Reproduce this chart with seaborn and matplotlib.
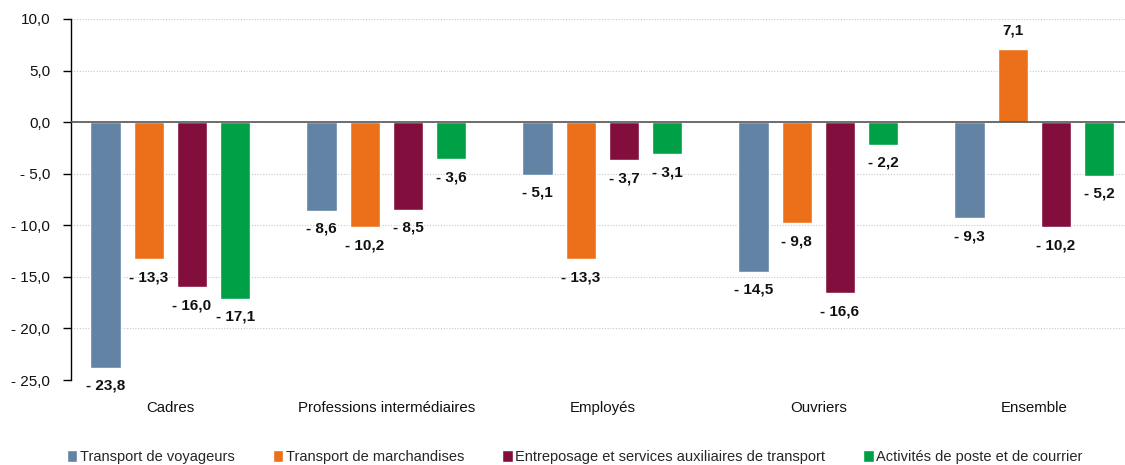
import matplotlib
matplotlib.use("Agg")
import matplotlib.pyplot as plt
import seaborn as sns
import pandas as pd
from matplotlib.ticker import FuncFormatter

categories = ["Cadres", "Professions intermédiaires", "Employés", "Ouvriers", "Ensemble"]
series_names = ["Transport de voyageurs", "Transport de marchandises",
                "Entreposage et services auxiliaires de transport", "Activités de poste et de courrier"]
voyageurs = [-23.8, -8.6, -5.1, -14.5, -9.3]
marchandises = [-13.3, -10.2, -13.3, -9.8, 7.1]
entreposage = [-16.0, -8.5, -3.7, -16.6, -10.2]
poste = [-17.1, -3.6, -3.1, -2.2, -5.2]
colors = ["#6283A3", "#EC7019", "#820E3E", "#00A046"]

rows = []
for name, vals in zip(series_names, [voyageurs, marchandises, entreposage, poste]):
    for c, v in zip(categories, vals):
        rows.append({"cat": c, "serie": name, "val": v})
df = pd.DataFrame(rows)

sns.set_theme(style="white")
plt.rcParams["font.family"] = ["Liberation Sans", "DejaVu Sans"]

fig = plt.figure(figsize=(11.25, 4.65), dpi=100)
ax = fig.add_axes([71/1125, 1-380/465, (1125-71)/1125, (380-19)/465])

sns.barplot(data=df, x="cat", y="val", hue="serie", order=categories,
            hue_order=series_names, palette=colors, width=0.8, gap=0.3,
            saturation=1, ax=ax, errorbar=None, legend=True)

def fmt(v):
    s = f"{abs(v):.1f}".replace(".", ",")
    return ("- " + s) if v < 0 else s

for cont in ax.containers:
    labels = [fmt(b.get_height()) for b in cont]
    ax.bar_label(cont, labels=labels, padding=8, fontsize=11, fontweight="bold", color="#111111")

ax.set_ylim(-25, 10)
ax.set_xlim(-0.46, 4.42)
ax.set_yticks([10, 5, 0, -5, -10, -15, -20, -25])
ax.yaxis.set_major_formatter(FuncFormatter(lambda v, p: fmt(v) if v != 0 else "0,0"))
ax.grid(axis="y", linestyle=(0, (1, 1.5)), color="#C8C8C8", linewidth=0.8)
ax.set_axisbelow(True)
ax.axhline(0, color="#555555", linewidth=1.2, zorder=3)
for s in ["top", "right", "bottom"]:
    ax.spines[s].set_visible(False)
ax.spines["left"].set_color("black")
ax.spines["left"].set_linewidth(1)
ax.tick_params(axis="y", which="major", left=True, length=6, width=1, color="black",
               labelsize=11, pad=9, labelcolor="#111111")
ax.tick_params(axis="x", bottom=False, labelsize=10.8, pad=9, labelcolor="#111111")
ax.set_xlabel("")
ax.set_ylabel("")

handles, labs = ax.get_legend_handles_labels()
ax.get_legend().remove()
fig.legend(handles, labs, loc="center", bbox_to_anchor=(575/1125, 1-457/465), ncol=4,
           frameon=False, fontsize=10.5, handlelength=0.7, handleheight=0.9,
           handletextpad=0.2, columnspacing=2.6)

fig.savefig("out.png", dpi=100)
